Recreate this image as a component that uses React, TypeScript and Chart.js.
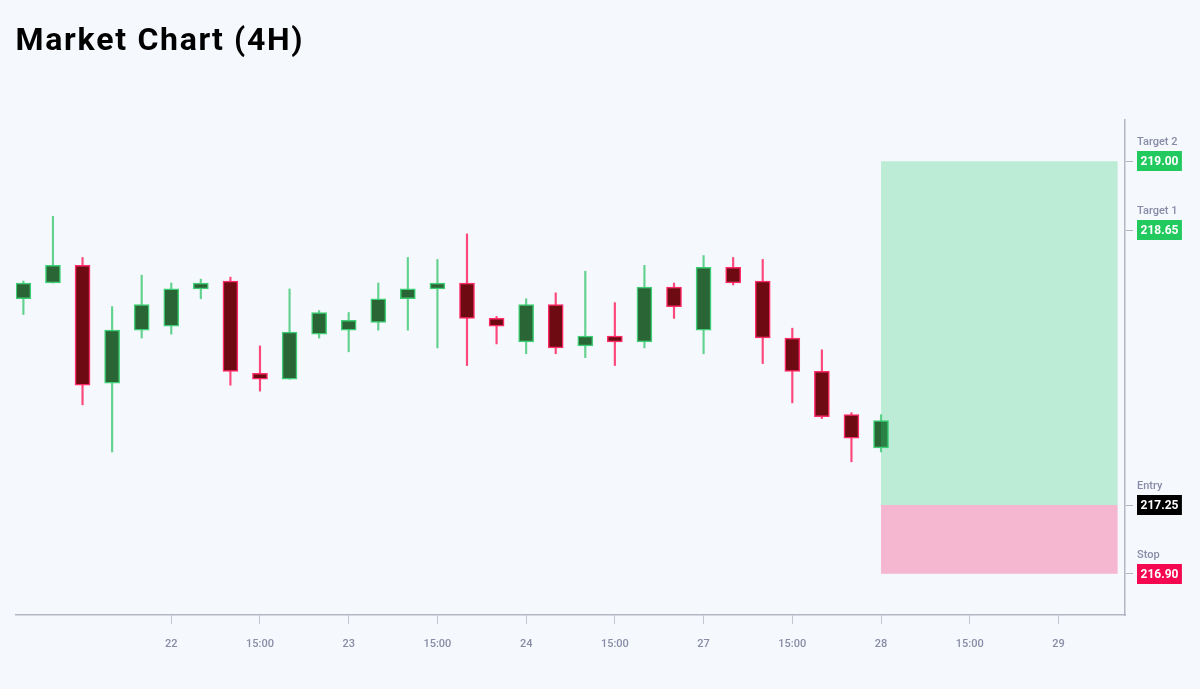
import { useEffect, useRef } from 'react';
import { Chart, registerables } from 'chart.js';

Chart.register(...registerables);

const FONT = 'Roboto, "Noto Sans", sans-serif';

const TITLE = 'Market Chart (4H)';

// candle index (4H bars)
const CANDLE_X = [0, 1, 2, 3, 4, 5, 6, 7, 8, 9, 10, 11, 12, 13, 14, 15, 16, 17, 18, 19, 20, 21, 22, 23, 24, 25, 26, 27, 28, 29];
const OPEN = [218.30, 218.38, 218.47, 217.87, 218.14, 218.16, 218.35, 218.39, 217.92, 217.89, 218.12, 218.14, 218.18, 218.30, 218.35, 218.38, 218.20, 218.08, 218.27, 218.06, 218.11, 218.08, 218.36, 218.14, 218.46, 218.39, 218.10, 217.93, 217.71, 217.54];
const HIGH = [218.39, 218.72, 218.51, 218.26, 218.42, 218.38, 218.40, 218.41, 218.06, 218.35, 218.24, 218.23, 218.38, 218.51, 218.50, 218.63, 218.21, 218.30, 218.33, 218.44, 218.28, 218.47, 218.38, 218.52, 218.51, 218.50, 218.15, 218.04, 217.72, 217.71];
const LOW = [218.22, 218.38, 217.76, 217.52, 218.10, 218.12, 218.30, 217.86, 217.83, 217.89, 218.10, 218.03, 218.14, 218.14, 218.05, 217.96, 218.07, 218.02, 218.02, 218.00, 217.96, 218.05, 218.20, 218.02, 218.37, 217.97, 217.77, 217.69, 217.47, 217.52];
const CLOSE = [218.38, 218.47, 217.86, 218.14, 218.27, 218.35, 218.38, 217.93, 217.89, 218.13, 218.23, 218.19, 218.30, 218.35, 218.38, 218.20, 218.16, 218.27, 218.05, 218.11, 218.08, 218.36, 218.26, 218.46, 218.38, 218.10, 217.93, 217.70, 217.59, 217.68];

// x axis ticks (candle index) and labels
const X_TICKS = [5, 8, 11, 14, 17, 20, 23, 26, 29, 32, 35];
const X_LABELS = ['22', '15:00', '23', '15:00', '24', '15:00', '27', '15:00', '28', '15:00', '29'];
const X_MIN = -0.25;
const X_MAX = 37.25;

// trade levels
const LEVEL_NAMES = ['Target 2', 'Target 1', 'Entry', 'Stop'];
const LEVEL_VALUES = [219.0, 218.65, 217.25, 216.9];
const LEVEL_COLORS = ['#22c95e', '#22c95e', '#000000', '#f5084f'];
const Y_MIN = 216.69;
const Y_MAX = 219.21;

// trade zone
const ZONE_START = 29;
const ZONE_END = 37;
const ZONE_TARGET = 219.0;
const ZONE_ENTRY = 217.25;
const ZONE_STOP = 216.9;

const BG = '#f5f8fd';
const AXIS_COLOR = '#b4b7c3';
const TICK_TEXT = '#8a8ba6';

export default function App() {
  const ref = useRef<HTMLCanvasElement | null>(null);

  useEffect(() => {
    if (!ref.current) return;
    const up = CLOSE.map((c, i) => c >= OPEN[i]);
    const bodies = CANDLE_X.map((x, i) => ({ x, y: [Math.min(OPEN[i], CLOSE[i]), Math.max(OPEN[i], CLOSE[i])] }));
    const wicks = CANDLE_X.map((x, i) => ({ x, y: [LOW[i], HIGH[i]] }));

    const bgPlugin = {
      id: 'bgTitle',
      beforeDraw(chart: any) {
        const ctx = chart.ctx;
        ctx.save();
        ctx.fillStyle = BG;
        ctx.fillRect(0, 0, chart.width, chart.height);
        ctx.fillStyle = '#000000';
        ctx.font = `bold 32px ${FONT}`;
        ctx.textAlign = 'left';
        ctx.textBaseline = 'alphabetic';
        let x = 15.5;
        for (const ch of TITLE) {
          ctx.fillText(ch, x, 49.5);
          x += ctx.measureText(ch).width + 1.7;
        }
        ctx.restore();
      },
    };

    const zonePlugin = {
      id: 'zone',
      afterDatasetsDraw(chart: any) {
        const { ctx, scales } = chart;
        const xs = scales.x;
        const ys = scales.y;
        const x1 = xs.getPixelForValue(ZONE_START);
        const x2 = xs.getPixelForValue(ZONE_END);
        const yT = ys.getPixelForValue(ZONE_TARGET);
        const yE = ys.getPixelForValue(ZONE_ENTRY);
        const yS = ys.getPixelForValue(ZONE_STOP);
        ctx.save();
        ctx.fillStyle = 'rgba(40, 205, 110, 0.28)';
        ctx.fillRect(x1, yT, x2 - x1, yE - yT);
        ctx.fillStyle = 'rgba(245, 30, 105, 0.30)';
        ctx.fillRect(x1, yE, x2 - x1, yS - yE);
        ctx.restore();
      },
    };

    const levelPlugin = {
      id: 'levels',
      afterDraw(chart: any) {
        const { ctx, scales, chartArea } = chart;
        const ys = scales.y;
        const x0 = chartArea.right + 12;
        ctx.save();
        LEVEL_VALUES.forEach((v, i) => {
          const y = Math.round(ys.getPixelForValue(v));
          ctx.font = `500 11px ${FONT}`;
          ctx.fillStyle = TICK_TEXT;
          ctx.textAlign = 'left';
          ctx.textBaseline = 'middle';
          ctx.fillText(LEVEL_NAMES[i], x0, y - 19);
          ctx.font = `bold 12px ${FONT}`;
          const text = v.toFixed(2);
          const w = ctx.measureText(text).width + 7;
          ctx.fillStyle = LEVEL_COLORS[i];
          ctx.fillRect(x0, y - 10, w, 20);
          ctx.fillStyle = '#ffffff';
          ctx.textAlign = 'center';
          ctx.fillText(text, x0 + w / 2, y + 0.5);
        });
        ctx.restore();
      },
    };

    const chart = new Chart(ref.current, {
      type: 'bar',
      data: {
        datasets: [
          {
            data: bodies as any,
            backgroundColor: up.map((u) => (u ? '#2a6536' : '#6e0a12')),
            borderColor: up.map((u) => (u ? '#3ecf74' : '#ff2a66')),
            borderWidth: 1.5,
            borderSkipped: false,
            barThickness: 15,
            grouped: false,
            order: 0,
          } as any,
          {
            data: wicks as any,
            backgroundColor: up.map((u) => (u ? 'rgba(62, 200, 115, 0.8)' : 'rgba(255, 40, 100, 0.85)')),
            borderWidth: 0,
            barThickness: 1.5,
            grouped: false,
            order: 1,
          } as any,
        ],
      },
      options: {
        animation: false,
        responsive: false,
        layout: { padding: { left: 16, top: 120, right: 0, bottom: 30 } },
        plugins: {
          legend: { display: false },
          tooltip: { enabled: false },
          title: { display: false },
        },
        scales: {
          x: {
            type: 'linear',
            min: X_MIN,
            max: X_MAX,
            offset: false,
            grid: { offset: false, drawOnChartArea: false, drawTicks: true, tickLength: 9, color: '#c4c6d0', lineWidth: 1 },
            border: { display: true, color: AXIS_COLOR, width: 1.5 },
            afterBuildTicks: (s: any) => {
              s.ticks = X_TICKS.map((v) => ({ value: v }));
            },
            afterFit: (s: any) => {
              s.height = 44;
            },
            ticks: {
              callback: (v: any) => {
                const k = X_TICKS.indexOf(Number(v));
                return k >= 0 ? X_LABELS[k] : '';
              },
              autoSkip: false,
              maxRotation: 0,
              font: { family: FONT, size: 11, weight: 500 as any },
              color: TICK_TEXT,
              padding: 14,
            },
          },
          y: {
            type: 'linear',
            position: 'right',
            min: Y_MIN,
            max: Y_MAX,
            grid: { offset: false, drawOnChartArea: false, drawTicks: true, tickLength: 8, color: AXIS_COLOR },
            border: { display: true, color: AXIS_COLOR, width: 1.5 },
            afterBuildTicks: (s: any) => {
              s.ticks = LEVEL_VALUES.map((v) => ({ value: v }));
            },
            afterFit: (s: any) => {
              s.width = 75;
            },
            ticks: { callback: () => '', font: { size: 1 } },
          },
        },
      } as any,
      plugins: [bgPlugin, zonePlugin, levelPlugin],
    });
    return () => chart.destroy();
  }, []);

  return (
    <div style={{ position: 'fixed', left: 0, top: 0, width: 1200, height: 689, background: BG }}>
      <canvas ref={ref} width={1200} height={689} style={{ width: 1200, height: 689, display: 'block' }} />
    </div>
  );
}
